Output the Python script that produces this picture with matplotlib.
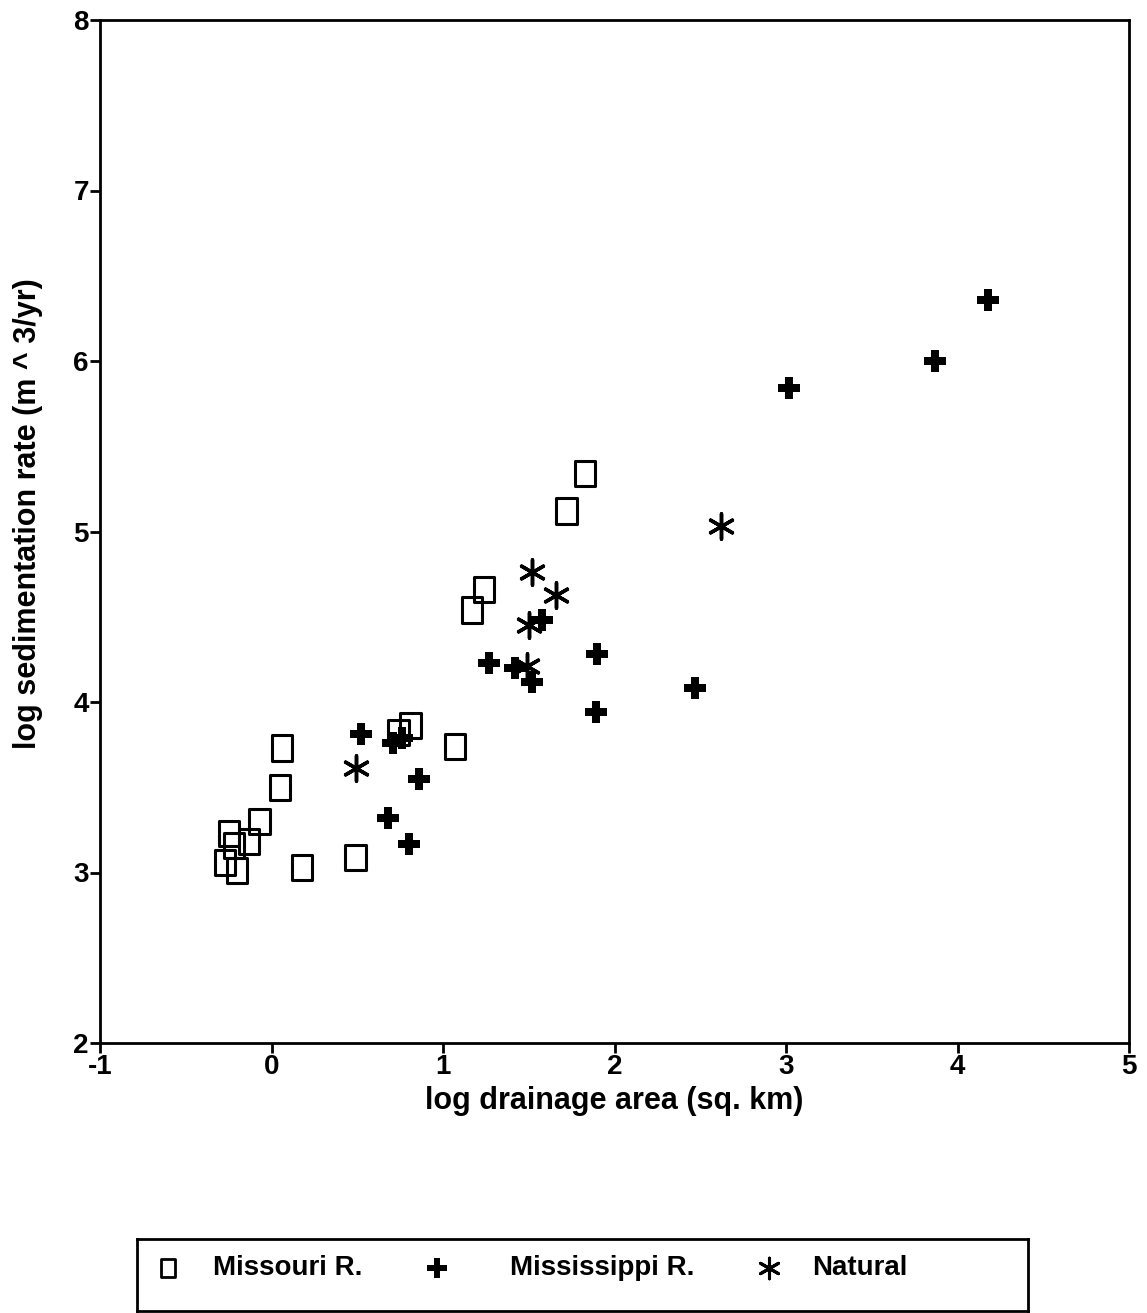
import matplotlib.pyplot as plt
from matplotlib.path import Path

plt.rcParams['font.family'] = ['Liberation Sans', 'DejaVu Sans']
plt.rcParams['axes.unicode_minus'] = False

# Missouri R. (squares)
missouri_x = [0.06, 0.05, -0.07, -0.25, -0.13, -0.22, -0.27, -0.20, 0.18, 0.49,
              0.74, 0.81, 1.07, 1.17, 1.24, 1.72, 1.83]
missouri_y = [3.73, 3.50, 3.30, 3.23, 3.18, 3.16, 3.06, 3.01, 3.03, 3.09,
              3.82, 3.86, 3.74, 4.54, 4.66, 5.12, 5.34]

# Mississippi R. (plus)
mississippi_x = [0.52, 0.71, 0.76, 0.86, 0.68, 0.80, 1.27, 1.42, 1.52, 1.58,
                 1.90, 1.89, 2.47, 3.02, 3.87, 4.18]
mississippi_y = [3.81, 3.76, 3.79, 3.55, 3.32, 3.17, 4.23, 4.20, 4.12, 4.48,
                 4.28, 3.94, 4.08, 5.84, 6.00, 6.36]

# Natural (asterisk)
natural_x = [0.49, 1.52, 1.66, 1.50, 1.49, 2.62]
natural_y = [3.61, 4.76, 4.63, 4.45, 4.21, 5.03]

series_labels = ['Missouri R.', 'Mississippi R.', 'Natural']

# slightly tall rectangle marker like the scan
rect = Path([(-0.4, -0.5), (0.4, -0.5), (0.4, 0.5), (-0.4, 0.5), (-0.4, -0.5)],
            [Path.MOVETO, Path.LINETO, Path.LINETO, Path.LINETO, Path.CLOSEPOLY])

fig = plt.figure(figsize=(11.47, 13.13), dpi=100)
ax = fig.add_axes([100/1147, 1-1043/1313, 1029/1147, 1023/1313])

ax.scatter(missouri_x, missouri_y, marker=rect, s=330, facecolors='none',
           edgecolors='black', linewidths=2.2)
ax.scatter(mississippi_x, mississippi_y, marker='P', s=270, color='black',
           linewidths=0)
ax.scatter(natural_x, natural_y, marker=(6, 2, 0), s=330, color='black',
           linewidths=2.5)

ax.set_xlim(-1, 5)
ax.set_ylim(2, 8)
ax.set_xticks(range(-1, 6))
ax.set_yticks(range(2, 9))
ax.tick_params(direction='out', length=7, width=2, labelsize=20, pad=1)
for lab in ax.get_xticklabels() + ax.get_yticklabels():
    lab.set_fontweight('bold')
for sp in ax.spines.values():
    sp.set_linewidth(2)

ax.set_xlabel('log drainage area (sq. km)', fontsize=22, fontweight='bold',
              labelpad=4)
ax.set_ylabel('log sedimentation rate (m ^ 3/yr)', fontsize=22,
              fontweight='bold')
ax.yaxis.set_label_coords(-0.055, 0.517)

# legend box drawn below the plot
lax = fig.add_axes([137/1147, 2/1313, 891/1147, 72/1313])
lax.set_xlim(0, 891)
lax.set_ylim(0, 72)
lax.set_xticks([])
lax.set_yticks([])
for sp in lax.spines.values():
    sp.set_linewidth(2)
lax.scatter([31], [43], marker=rect, s=170, facecolors='none',
            edgecolors='black', linewidths=2)
lax.scatter([300], [43], marker='P', s=190, color='black', linewidths=0)
lax.scatter([632], [43], marker=(6, 2, 0), s=220, color='black', linewidths=2.2)
for xt, t in zip([76, 373, 675], series_labels):
    lax.text(xt, 43, t, fontsize=20, fontweight='bold', va='center', ha='left')

fig.savefig('out.png', dpi=100)
